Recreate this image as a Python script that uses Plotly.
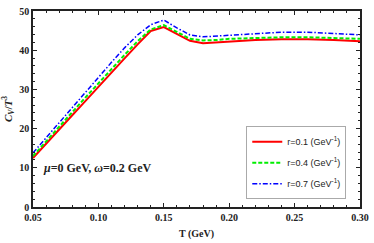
import plotly.graph_objects as go

T = [0.05, 0.06, 0.07, 0.08, 0.09, 0.10, 0.11, 0.12, 0.13, 0.14, 0.15, 0.16, 0.17, 0.18, 0.19, 0.20, 0.22, 0.24, 0.26, 0.28, 0.30]
cv_r01 = [12.5, 16.2, 19.8, 23.4, 27.0, 30.7, 34.3, 37.9, 41.5, 44.9, 45.9, 44.2, 42.4, 41.8, 42.0, 42.3, 42.6, 42.8, 42.8, 42.6, 42.3]
cv_r04 = [13.0, 16.8, 20.5, 24.2, 27.9, 31.6, 35.2, 38.8, 42.3, 45.3, 46.4, 44.6, 42.9, 42.5, 42.6, 42.9, 43.1, 43.3, 43.3, 43.1, 42.9]
cv_r07 = [13.8, 17.7, 21.6, 25.5, 29.3, 33.1, 36.9, 40.6, 43.9, 46.5, 47.7, 45.7, 43.9, 43.4, 43.6, 43.9, 44.3, 44.6, 44.6, 44.3, 43.9]
names = ["r=0.1 (GeV<sup>-1</sup>)", "r=0.4 (GeV<sup>-1</sup>)", "r=0.7 (GeV<sup>-1</sup>)"]
x_ticks = [0.05, 0.10, 0.15, 0.20, 0.25, 0.30]
x_ticklabels = ["0.05", "0.10", "0.15", "0.20", "0.25", "0.30"]
y_ticks = [0, 10, 20, 30, 40, 50]

fig = go.Figure()
styles = [("#ff0000", "solid", 2), ("#00ee00", "4px,2px", 2), ("#0000ff", "5px,2px,1.5px,2px", 1.5)]
for i, (ys, nm, (c, d, w)) in enumerate(zip([cv_r01, cv_r04, cv_r07], names, styles)):
    fig.add_trace(go.Scatter(x=T, y=ys, mode="lines", name=nm, legendgroup=f"g{i}",
                             line=dict(color=c, dash=d, width=w)))

serif = "Liberation Serif"
axis_common = dict(showline=True, linecolor="#222", linewidth=1.5, mirror="ticks",
                   ticks="inside", ticklen=4, tickcolor="#222", showgrid=False, zeroline=False,
                   tickfont=dict(family=serif, size=10, color="#222", weight="bold"))
fig.update_xaxes(range=[0.05, 0.30], tickvals=x_ticks, ticktext=x_ticklabels,
                 minor=dict(dtick=0.01, ticks="inside", ticklen=2, tickcolor="#222"),
                 title=dict(text="<b>T (GeV)</b>", font=dict(family=serif, size=10, color="#222"), standoff=8),
                 **axis_common)
fig.update_yaxes(range=[0, 50], tickvals=y_ticks,
                 minor=dict(dtick=2, ticks="inside", ticklen=2, tickcolor="#222"),
                 title=dict(text="<b><i>C<sub>V</sub></i>/<i>T</i><sup>3</sup></b>", font=dict(family=serif, size=11, color="#222"), standoff=6),
                 **axis_common)
fig.update_layout(
    width=374, height=243,
    margin=dict(l=33, r=10, t=5, b=33),
    paper_bgcolor="white", plot_bgcolor="white",
    font=dict(family=serif, color="#222"),
    legend=dict(x=0.958, y=0.04, xanchor="right", yanchor="bottom",
                bgcolor="white", bordercolor="#aaa", borderwidth=1,
                font=dict(family="Liberation Sans", size=9, color="#222"),
                tracegroupgap=2, itemwidth=30),
    annotations=[dict(x=0.05, y=10, xref="x", yref="y", xanchor="left", yanchor="middle",
                      xshift=8, text="<b><i>μ</i>=0 GeV, <i>ω</i>=0.2 GeV</b>", showarrow=False,
                      font=dict(family=serif, size=12, color="#222"))],
)
fig.write_html("out.html", config={"displayModeBar": False},
               post_script="document.body.style.margin='0';document.body.style.overflow='hidden';")
